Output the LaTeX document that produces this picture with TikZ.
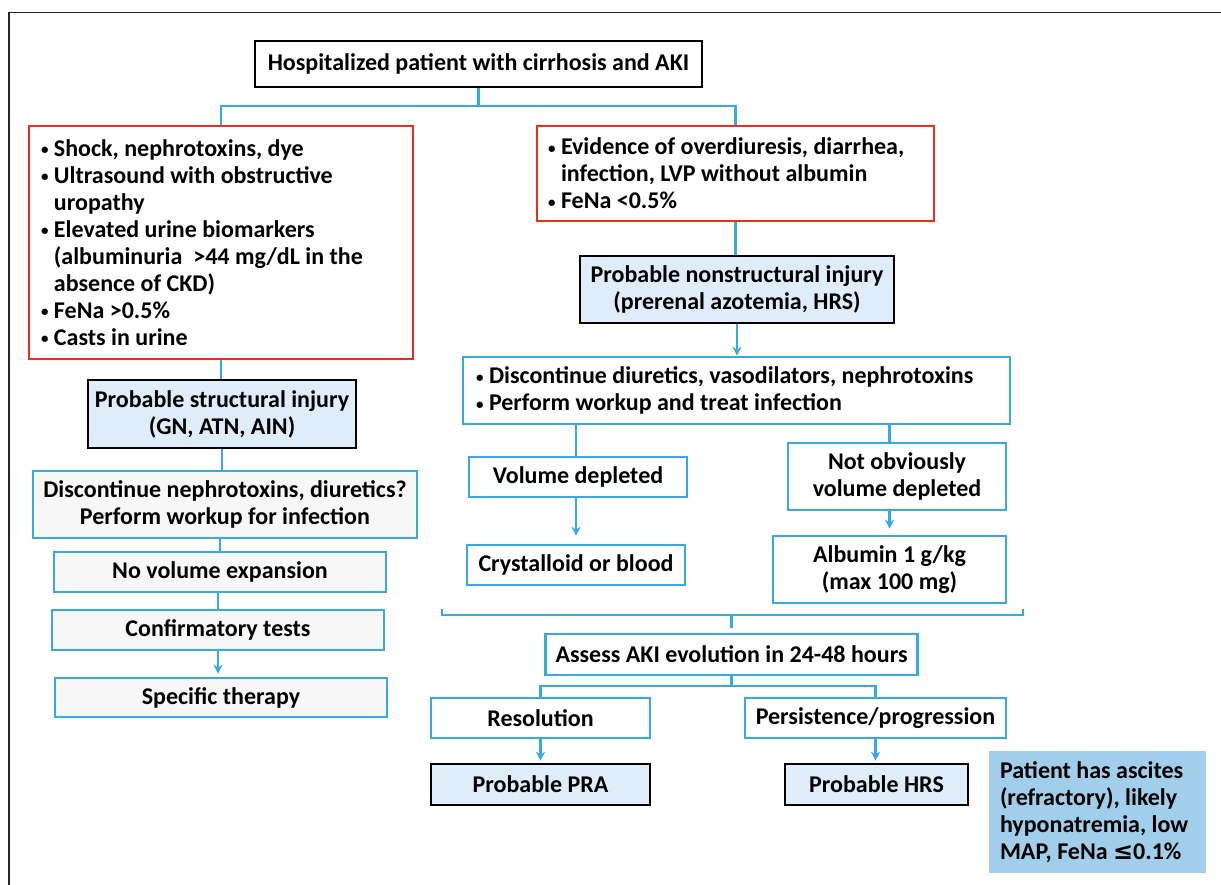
\documentclass[tikz,border=0pt]{standalone}
\usepackage{fontspec}
\setmainfont{Carlito}
\newfontfamily\symfont{DejaVu Sans}
\usepackage{tikz}
\usepackage{xcolor}
\usetikzlibrary{arrows.meta, positioning}

\definecolor{cyanline}{RGB}{55,170,225}
\definecolor{redline}{RGB}{240,45,25}
\definecolor{paleblue}{RGB}{222,237,249}
\definecolor{grayfill}{RGB}{247,247,247}
\definecolor{notefill}{RGB}{160,206,235}

\newcommand{\bul}{\makebox[13pt][l]{\raisebox{1.5pt}{\fontsize{15}{15}\selectfont\textbullet}}}
\newcommand{\ind}{\hspace*{13pt}}

\begin{document}
\begin{tikzpicture}[x=1pt, y=-1pt,
    every node/.style={font=\fontsize{24}{27}\selectfont\bfseries, inner sep=0pt,
        execute at begin node={\spaceskip=0pt\xspaceskip=0pt}},
    blackbox/.style={draw=black, line width=2.6pt, fill=white, align=center},
    injurybox/.style={draw=black, line width=2.6pt, fill=paleblue, align=center},
    redbox/.style={draw=redline, line width=2.6pt, fill=white, align=flush left},
    bluebox/.style={draw=cyanline, line width=2.6pt, fill=white, align=center},
    graybox/.style={draw=cyanline, line width=2.6pt, fill=grayfill, align=center},
    notebox/.style={fill=notefill, align=flush left},
    link/.style={draw=cyanline, line width=2.5pt},
    arrow/.style={link, -{Stealth[length=9pt, width=9pt]}}]
                        \useasboundingbox (0,0) rectangle (1221,885);
                        \draw[line width=1.3pt, color=black!85] (9,885) -- (9,12.5) -- (1221,12.5);
                        % top
                        \node[blackbox, minimum width=447, minimum height=46] (patient) at (478.5,64) {Hospitalized patient with cirrhosis and AKI};
                        % left column
                        \node[redbox, text width=360, inner xsep=12, minimum height=233] (structsigns) at (221,242.5) {\bul Shock, nephrotoxins, dye\\ \bul Ultrasound with obstructive\\ \ind uropathy\\ \bul Elevated urine biomarkers\\ \ind (albuminuria\ \ >44 mg/dL in the\\ \ind absence of CKD)\\ \bul FeNa >0.5\%\\ \bul Casts in urine};
                        \node[injurybox, minimum width=268, minimum height=68] (structural) at (222,414) {Probable structural injury\\(GN, ATN, AIN)};
                        \node[graybox, minimum width=384, minimum height=67] (stopnephro) at (225,504.5) {Discontinue nephrotoxins, diuretics?\\Perform workup for infection};
                        \node[graybox, minimum width=332, minimum height=40] (novolume) at (220,572) {No volume expansion};
                        \node[graybox, minimum width=332, minimum height=40] (confirm) at (218,630) {Confirmatory tests};
                        \node[graybox, minimum width=332, minimum height=39] (therapy) at (221,697.5) {Specific therapy};
                        % right column
                        \node[redbox, text width=375, inner xsep=11, minimum height=95] (volsigns) at (735.5,173.5) {\bul Evidence of overdiuresis, diarrhea,\\ \ind infection, LVP without albumin\\ \bul FeNa <0.5\%};
                        \node[injurybox, minimum width=314, minimum height=67] (nonstruct) at (737,289.5) {Probable nonstructural injury\\(prerenal azotemia, HRS)};
                        \node[bluebox, align=flush left, text width=521, inner xsep=13, minimum height=67] (stopdrugs) at (736.5,390.5) {\bul Discontinue diuretics, vasodilators, nephrotoxins\\ \bul Perform workup and treat infection};
                        \node[bluebox, minimum width=218, minimum height=40] (depleted) at (578,477) {Volume depleted};
                        \node[bluebox, minimum width=218, minimum height=67] (notdepleted) at (897,476.5) {Not obviously\\volume depleted};
                        \node[bluebox, minimum width=218, minimum height=40] (crystalloid) at (576,565) {Crystalloid or blood};
                        \node[bluebox, minimum width=233, minimum height=67] (albumin) at (889.5,569.5) {Albumin 1 g/kg\\(max 100 mg)};
                        \node[bluebox, minimum width=372, minimum height=41] (assess) at (731.5,654.5) {Assess AKI evolution in 24-48 hours};
                        \node[bluebox, minimum width=219, minimum height=40] (resolution) at (540.5,718) {Resolution};
                        \node[bluebox, minimum width=261, minimum height=40] (persistence) at (875.5,718) {Persistence/progression};
                        \node[injurybox, minimum width=219, minimum height=41] (pra) at (540.5,784.5) {Probable PRA};
                        \node[injurybox, minimum width=183, minimum height=41] (hrs) at (876.5,784.5) {Probable HRS};
                        \node[notebox, text width=195, inner xsep=11, minimum height=122] (hrsnote) at (1097.5,812) {Patient has ascites\\(refractory), likely\\hyponatremia, low\\MAP, FeNa {\symfont ≤}0.1\%};
                        % connectors
                        \coordinate (split) at (478.5,106);
                        \coordinate (bracketL) at (442,609);
                        \coordinate (bracketR) at (1023,609);
                        \coordinate (merge) at (731.5,615);
                        \coordinate (fork) at (731.5,686);
                        \draw[link] (patient.south) -- (split);
                        \draw[link] (split) -| (structsigns.north);
                        \draw[link] (split) -| (volsigns.north);
                        \draw[link] (structsigns.south) -- (structsigns.south |- structural.north);
                        \draw[link] (structural.south) -- (structural.south |- stopnephro.north);
                        \draw[link] (stopnephro.south -| novolume.north) -- (novolume.north);
                        \draw[link] (novolume.south -| confirm.north) -- (confirm.north);
                        \draw[arrow, shorten >=3pt] (confirm.south) -- (confirm.south |- therapy.north);
                        \draw[link] (volsigns.south) -- (volsigns.south |- nonstruct.north);
                        \draw[arrow] (nonstruct.south) -- (nonstruct.south |- stopdrugs.north);
                        \draw[link] (stopdrugs.south -| crystalloid.north) -- (depleted.north -| crystalloid.north);
                        \draw[link] (stopdrugs.south -| albumin.north) -- (notdepleted.north -| albumin.north);
                        \draw[arrow, shorten >=8pt] (depleted.south -| crystalloid.north) -- (crystalloid.north);
                        \draw[arrow, shorten >=6pt] (notdepleted.south -| albumin.north) -- (albumin.north);
                        \draw[link] (bracketL) |- (merge) -| (bracketR);
                        \draw[link, shorten >=5pt] (merge) -- (merge |- assess.north);
                        \draw[link] (assess.south) -- (fork);
                        \draw[link] (fork) -| (resolution.north);
                        \draw[link] (fork) -| (persistence.north);
                        \draw[arrow, shorten >=2pt] (resolution.south) -- (resolution.south |- pra.north);
                        \draw[arrow, shorten >=2pt] (persistence.south) -- (persistence.south |- hrs.north);
                    \end{tikzpicture}
\end{document}
